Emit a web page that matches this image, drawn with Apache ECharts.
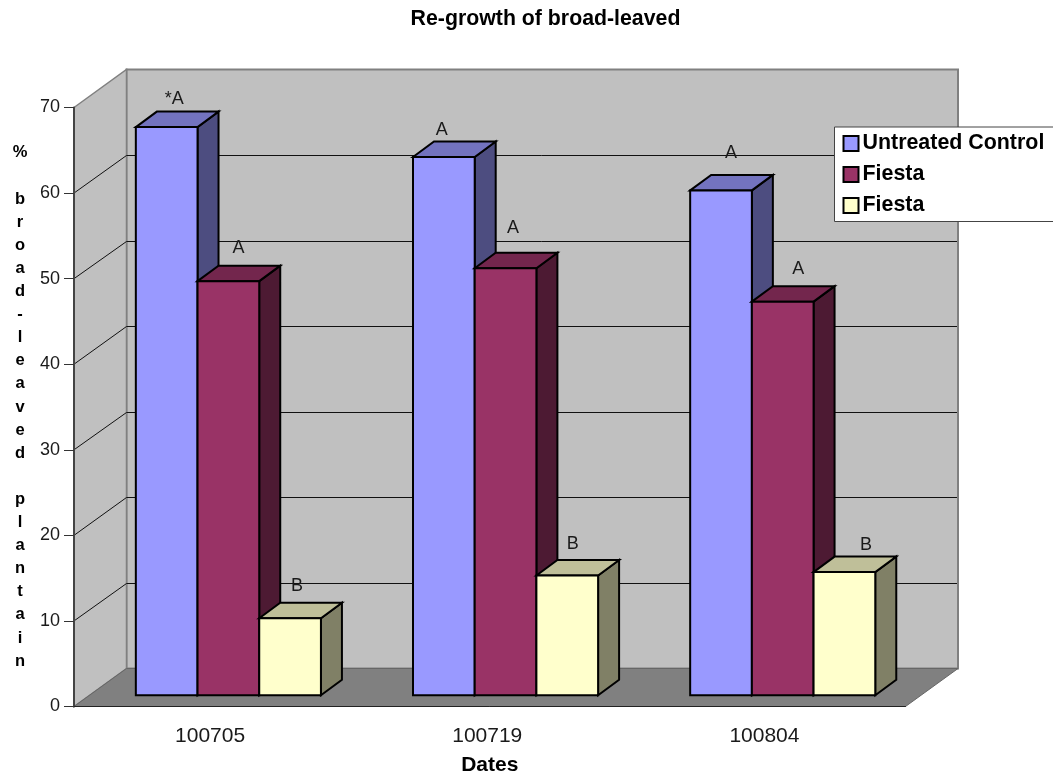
<!DOCTYPE html>
<html>
<head>
<meta charset="utf-8">
<title>Re-growth of broad-leaved</title>
<style>html,body{margin:0;padding:0;background:#fff;overflow:hidden}#chart{width:1053px;height:775px}</style>
<script src="https://cdn.jsdelivr.net/npm/echarts@6/dist/echarts.min.js"></script>
</head>
<body>
<div id="chart"></div>
<script>
// Chart data
const categories = ['100705', '100719', '100804'];
const seriesNames = ['Untreated Control', 'Fiesta', 'Fiesta '];
const untreatedControl = [66.4, 62.9, 59.0];
const fiestaFirst = [48.4, 49.9, 46.0];
const fiestaSecond = [9.0, 14.0, 14.4];
const significance = [
  ['*A', 'A', 'A'],
  ['A', 'A', 'A'],
  ['B', 'B', 'B']
];
const yTicks = [10, 20, 30, 40, 50, 60];

// Pseudo-3D layout, in pixels
const FONT = '"Liberation Sans", Arial, sans-serif';
const WALL_DX = 52.5, WALL_DY = -38;
const BAR_SHIFT_X = 15.8, BAR_SHIFT_Y = -11.2;
const BAR_W = 61.7, BAR_DX = 21, BAR_DY = -15.5;
// The significance letters were placed by hand, so each has its own offset
const labelOffsets = [
  [[7.5, -28.5], [-2, -27], [10, -37]],
  [[10, -33], [7.5, -40.5], [15.5, -33]],
  [[7, -32], [5.5, -31.5], [21.5, -27]]
];
const palette = [
  { front: '#9999FF', top: '#7373BF', side: '#4D4D80' },
  { front: '#993366', top: '#73264D', side: '#4D1A33' },
  { front: '#FFFFCC', top: '#BFBF99', side: '#808066' }
];
const seriesValues = [untreatedControl, fiestaFirst, fiestaSecond];

const poly = (points, fill, stroke, lineWidth) => ({
  type: 'polygon',
  shape: { points },
  style: { fill, stroke, lineWidth: lineWidth || 0 }
});

// Back wall, side wall and floor of the box
function renderRoom(params, api) {
  const c = params.coordSys;
  const left = c.x, right = c.x + c.width, top = c.y, bottom = c.y + c.height;
  const bx = left + WALL_DX, brx = right + WALL_DX;
  const by = bottom + WALL_DY, ty = top + WALL_DY;
  return {
    type: 'group',
    children: [
      poly([[bx, ty], [brx, ty], [brx, by], [bx, by]], '#C0C0C0', '#808080', 2),
      poly([[left, top], [bx, ty], [bx, by], [left, bottom]], '#C0C0C0', '#808080', 1.5),
      poly([[left, bottom], [right, bottom], [brx, by], [bx, by]], '#808080', '#666666', 1)
    ]
  };
}

// One gridline bent around the side wall and across the back wall
function renderGridline(params, api) {
  const c = params.coordSys;
  const y = api.coord([0, api.value(0)])[1];
  const backY = Math.round(y + WALL_DY) + 0.5;
  return {
    type: 'polyline',
    shape: {
      points: [
        [c.x, y],
        [c.x + WALL_DX, backY],
        [c.x + c.width + WALL_DX - 1, backY]
      ]
    },
    style: { fill: null, stroke: '#111111', lineWidth: 1 }
  };
}

function barRenderer(seriesIndex) {
  const col = palette[seriesIndex];
  return function (params, api) {
    const cat = api.value(0);
    const centre = api.coord([cat, 0]);
    const topPoint = api.coord([cat, api.value(1)]);
    const x0 = centre[0] + BAR_SHIFT_X + (seriesIndex - 1.5) * BAR_W;
    const x1 = x0 + BAR_W;
    const yBase = centre[1] + BAR_SHIFT_Y;
    const yTop = topPoint[1] + BAR_SHIFT_Y;
    const off = labelOffsets[seriesIndex][cat];
    const edge = '#000000';
    return {
      type: 'group',
      children: [
        poly([[x1, yBase], [x1 + BAR_DX, yBase + BAR_DY], [x1 + BAR_DX, yTop + BAR_DY], [x1, yTop]], col.side, edge, 2),
        poly([[x0, yTop], [x0 + BAR_DX, yTop + BAR_DY], [x1 + BAR_DX, yTop + BAR_DY], [x1, yTop]], col.top, edge, 2),
        poly([[x0, yBase], [x1, yBase], [x1, yTop], [x0, yTop]], col.front, edge, 2),
        {
          type: 'text',
          style: {
            x: (x0 + x1) / 2 + off[0],
            y: yTop + off[1],
            text: significance[seriesIndex][cat],
            font: '18px ' + FONT,
            fill: '#1a1a1a',
            align: 'center',
            verticalAlign: 'middle'
          }
        }
      ]
    };
  };
}

const chart = echarts.init(document.getElementById('chart'), null, { renderer: 'canvas' });

chart.setOption({
  animation: false,
  backgroundColor: '#ffffff',
  title: {
    text: 'Re-growth of broad-leaved',
    left: 540.5,
    top: 3.5,
    textAlign: 'center',
    textStyle: { fontFamily: FONT, fontSize: 21.3, fontWeight: 'bold', color: '#000' }
  },
  legend: {
    left: 834.5,
    top: 127,
    orient: 'vertical',
    selectedMode: false,
    icon: 'rect',
    itemWidth: 15,
    itemHeight: 15,
    itemGap: 10,
    padding: [6, 30, 5.5, 8],
    backgroundColor: '#ffffff',
    borderColor: '#444444',
    borderWidth: 1,
    borderRadius: 0,
    itemStyle: { borderColor: '#000000', borderWidth: 2 },
    textStyle: { fontFamily: FONT, fontSize: 21.4, fontWeight: 'bold', color: '#000', padding: [2, 0, 0, -1] },
    data: seriesNames,
    z: 8
  },
  grid: { left: 74, top: 107.5, width: 831.5, height: 599, outerBoundsMode: 'none' },
  xAxis: {
    type: 'category',
    data: categories,
    name: 'Dates',
    nameLocation: 'middle',
    nameGap: 48,
    nameTextStyle: { fontFamily: FONT, fontSize: 21, fontWeight: 'bold', color: '#000' },
    axisLine: { lineStyle: { color: '#222222', width: 1 } },
    axisTick: { length: 11, lineStyle: { color: '#333333', width: 1 }, alignWithLabel: false },
    axisLabel: { fontFamily: FONT, fontSize: 21, color: '#1a1a1a', margin: 19, padding: [0, 5, 0, 0] },
    z: 3
  },
  yAxis: {
    type: 'value',
    min: 0,
    max: 70,
    interval: 10,
    name: '%\n\nb\nr\no\na\nd\n-\nl\ne\na\nv\ne\nd\n\np\nl\na\nn\nt\na\ni\nn',
    nameLocation: 'middle',
    nameRotate: 0,
    nameGap: 54,
    nameTextStyle: { fontFamily: FONT, fontSize: 16.5, fontWeight: 'bold', color: '#000', lineHeight: 23.1, align: 'center', padding: [5, 0, 0, 0] },
    splitLine: { show: false },
    axisLine: { show: true, lineStyle: { color: '#444444', width: 2 } },
    axisTick: { show: true, length: 10, lineStyle: { color: '#333333', width: 1 } },
    axisLabel: { fontFamily: FONT, fontSize: 18, color: '#1a1a1a', margin: 14, padding: [3, 0, 0, 0] },
    z: 3
  },
  series: [
    { type: 'custom', name: 'room', z: 1, silent: true, coordinateSystem: 'cartesian2d', data: [[0, 0]], renderItem: renderRoom },
    { type: 'custom', name: 'gridlines', z: 2, silent: true, coordinateSystem: 'cartesian2d', data: yTicks.map(v => [v]), encode: { y: 0 }, renderItem: renderGridline }
  ].concat(seriesNames.map((name, s) => ({
    type: 'custom',
    name,
    z: 4 + s,
    coordinateSystem: 'cartesian2d',
    encode: { x: 0, y: 1 },
    itemStyle: { color: palette[s].front },
    data: seriesValues[s].map((v, i) => [i, v]),
    renderItem: barRenderer(s)
  })))
});
</script>
</body>
</html>
